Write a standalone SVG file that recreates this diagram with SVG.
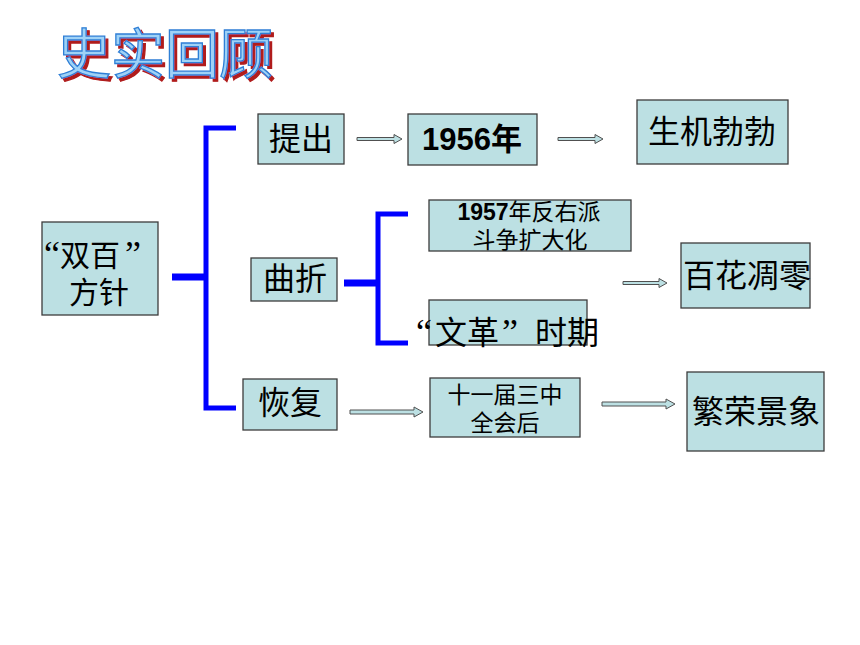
<svg xmlns="http://www.w3.org/2000/svg" width="860" height="645" viewBox="0 0 860 645">
<defs>
<filter id="shadow" x="-10%" y="-20%" width="130%" height="150%">
<feOffset in="SourceAlpha" dx="3" dy="3" result="o"/>
<feFlood flood-color="#b01c1c"/>
<feComposite in2="o" operator="in" result="s"/>
<feMerge><feMergeNode in="s"/><feMergeNode in="SourceGraphic"/></feMerge>
</filter>
</defs>
<style>
.box{fill:#bce0e3;stroke:#3c3c3c;stroke-width:1.3}
.t{font-family:"Liberation Sans","Noto Sans CJK SC",sans-serif;fill:#000}
.q{font-family:"Liberation Serif","Noto Sans CJK SC",serif;font-size:36px}
.c{text-anchor:middle}
.b{font-weight:bold}
.br{fill:none;stroke:#0000ff;stroke-width:5;stroke-linecap:butt}
.stub{stroke:#0000ff;stroke-width:7}
.ar{fill:#bce0e3;stroke:#505050;stroke-width:1}
.title{font-family:"Noto Sans CJK SC",sans-serif;font-size:54px}
</style>
<rect width="860" height="645" fill="#fff"/>
<g id="title">
<text class="title" x="57" y="74" fill="#9fd2f7" stroke="#2f7fd6" stroke-width="1.3" filter="url(#shadow)">史实回顾</text>
</g>
<g id="connectors">
<line class="stub" x1="172" y1="277" x2="207" y2="277"/>
<polyline class="br" points="236,128 206,128 206,408 236,408"/>
<line class="stub" x1="344" y1="283" x2="378" y2="283"/>
<polyline class="br" points="408,214 378,214 378,343 408,343"/>
<path class="ar" d="M357,137.5 H394 V134.5 L402,139 L394,143.5 V140.5 H357 Z"/>
<path class="ar" d="M558,137.5 H595 V134.5 L603,139 L595,143.5 V140.5 H558 Z"/>
<path class="ar" d="M623,281.5 H659 V278.5 L667,283 L659,287.5 V284.5 H623 Z"/>
<path class="ar" d="M350,410 H414 V407 L423,412 L414,417 V414 H350 Z"/>
<path class="ar" d="M602,402 H666 V399 L675,404 L666,409 V406 H602 Z"/>
</g>
<g id="n-shuangbai">
<rect class="box" x="42" y="222" width="116" height="93"/>
<text class="t" font-size="30" y="266"><tspan class="q" x="44">“</tspan><tspan x="60">双百</tspan><tspan class="q" x="125">”</tspan></text>
<text class="t c" font-size="30" x="99" y="303">方针</text>
</g>
<g id="n-tichu">
<rect class="box" x="258" y="114" width="86" height="50"/>
<text class="t c" font-size="32" x="301" y="150">提出</text>
</g>
<g id="n-1956">
<rect class="box" x="408" y="114" width="129" height="51"/>
<text class="t c b" font-size="31" x="472" y="150">1956年</text>
</g>
<g id="n-shengji">
<rect class="box" x="637" y="100" width="151" height="64"/>
<text class="t c" font-size="32" x="712" y="143">生机勃勃</text>
</g>
<g id="n-quzhe">
<rect class="box" x="251" y="258" width="86" height="43"/>
<text class="t c" font-size="32" x="295" y="290">曲折</text>
</g>
<g id="n-1957">
<rect class="box" x="429" y="200" width="202" height="51"/>
<text class="t c" font-size="23" x="529" y="220"><tspan class="b">1957</tspan>年反右派</text>
<text class="t c" font-size="23" x="530" y="248">斗争扩大化</text>
</g>
<g id="n-wenge">
<rect class="box" x="429" y="300" width="158" height="45"/>
<text class="t" font-size="32" y="344"><tspan class="q" x="416">“</tspan><tspan x="435">文革</tspan><tspan class="q" x="502">”</tspan><tspan x="535">时期</tspan></text>
</g>
<g id="n-baihua">
<rect class="box" x="681" y="243" width="129" height="65"/>
<text class="t c" font-size="32" x="747" y="287">百花凋零</text>
</g>
<g id="n-huifu">
<rect class="box" x="243" y="379" width="94" height="51"/>
<text class="t c" font-size="32" x="290" y="414">恢复</text>
</g>
<g id="n-shiyijie">
<rect class="box" x="430" y="378" width="150" height="59"/>
<text class="t c" font-size="23" x="505" y="403">十一届三中</text>
<text class="t c" font-size="23" x="505" y="431">全会后</text>
</g>
<g id="n-fanrong">
<rect class="box" x="687" y="372" width="137" height="79"/>
<text class="t c" font-size="32" x="756" y="423">繁荣景象</text>
</g>
</svg>
